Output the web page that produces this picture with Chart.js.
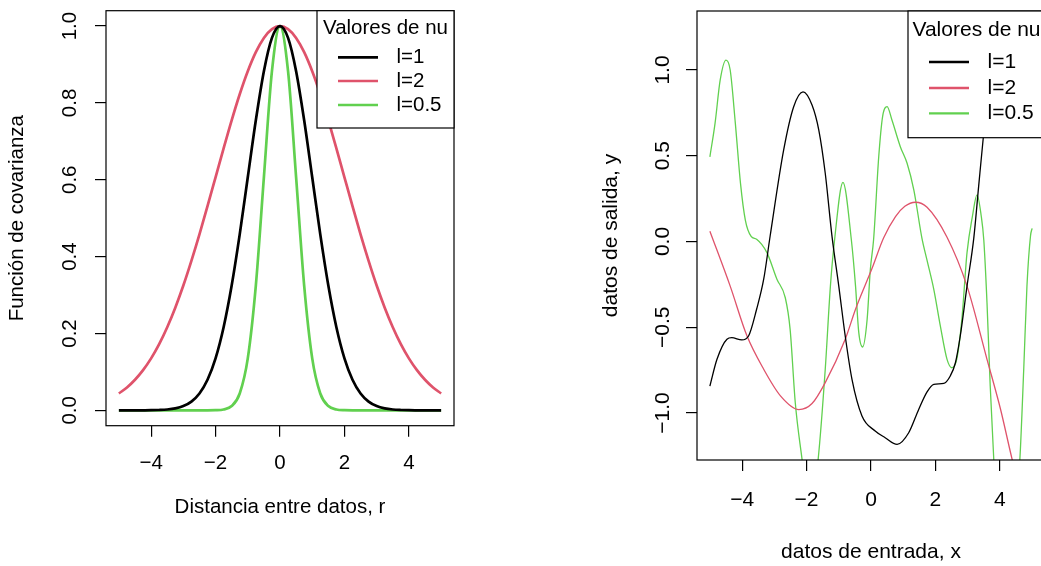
<!DOCTYPE html>
<html>
<head>
<meta charset="utf-8">
<script src="https://cdn.jsdelivr.net/npm/chart.js@4.4.1/dist/chart.umd.min.js"></script>
<style>
html, body { margin: 0; padding: 0; background: #fff; overflow: hidden; width: 1041px; height: 566px; }
#izq { position: absolute; left: 0; top: 0; }
#der { position: absolute; left: 560px; top: 0; }
</style>
</head>
<body>
<canvas id="izq" width="520" height="566"></canvas>
<canvas id="der" width="490" height="566"></canvas>
<script>
// ---- datos panel izquierdo: funcion de covarianza ----
var distancias = [-5, -4.75, -4.5, -4.25, -4, -3.75, -3.5, -3.25, -3, -2.75, -2.5, -2.25, -2, -1.75, -1.5, -1.25, -1, -0.75, -0.5, -0.25,
    0, 0.25, 0.5, 0.75, 1, 1.25, 1.5, 1.75, 2, 2.25, 2.5, 2.75, 3, 3.25, 3.5, 3.75, 4, 4.25, 4.5, 4.75, 5];
var covL1 = [0, 0, 0, 0.0001, 0.0003, 0.0009, 0.0022, 0.0051, 0.0111, 0.0228, 0.0439, 0.0796, 0.1353, 0.2163, 0.3247, 0.4578, 0.6065, 0.7548, 0.8825, 0.9692,
    1, 0.9692, 0.8825, 0.7548, 0.6065, 0.4578, 0.3247, 0.2163, 0.1353, 0.0796, 0.0439, 0.0228, 0.0111, 0.0051, 0.0022, 0.0009, 0.0003, 0.0001, 0, 0, 0];
var covL2 = [0.0439, 0.0596, 0.0796, 0.1046, 0.1353, 0.1724, 0.2163, 0.2671, 0.3247, 0.3889, 0.4578, 0.5314, 0.6065, 0.6818, 0.7548, 0.8226, 0.8825, 0.9321, 0.9692, 0.9922,
    1, 0.9922, 0.9692, 0.9321, 0.8825, 0.8226, 0.7548, 0.6818, 0.6065, 0.5314, 0.4578, 0.3889, 0.3247, 0.2671, 0.2163, 0.1724, 0.1353, 0.1046, 0.0796, 0.0596, 0.0439];
var covL05 = [0, 0, 0, 0, 0, 0, 0, 0, 0, 0, 0, 0, 0.0003, 0.0022, 0.0111, 0.0439, 0.1353, 0.3247, 0.6065, 0.8825,
    1, 0.8825, 0.6065, 0.3247, 0.1353, 0.0439, 0.0111, 0.0022, 0.0003, 0, 0, 0, 0, 0, 0, 0, 0, 0, 0, 0, 0];

// ---- datos panel derecho: muestras del proceso ----
var xNegro = [-5, -4.78, -4.47, -4.32, -4.01, -3.8, -3.55, -3.33, -3.13, -2.71, -2.4, -2.11, -1.83, -1.62, -1.42, -1.21, -1, -0.8, -0.59, -0.28,
    0.13, 0.44, 0.81, 1.17, 1.48, 1.74, 1.95, 2.26, 2.46, 2.62, 2.77, 2.98, 3.19, 3.34, 3.48, 3.8, 4.2, 4.6, 5];
var yNegro = [-0.843, -0.687, -0.57, -0.561, -0.574, -0.551, -0.395, -0.22, 0.032, 0.534, 0.786, 0.873, 0.796, 0.65, 0.398, 0.03, -0.26, -0.551, -0.804, -1.017,
    -1.105, -1.144, -1.183, -1.115, -0.979, -0.877, -0.833, -0.827, -0.784, -0.707, -0.551, -0.26, 0.02, 0.32, 0.596, 1.15, 1.7, 2.0, 2.1];
var xRojo = [-5, -4.37, -3.85, -3.33, -2.81, -2.24, -1.83, -1.42, -0.8, -0.48, 0.03, 0.39, 0.76, 1.05, 1.38, 1.74, 2.36, 2.98, 3.6, 4.02, 4.38, 4.7, 5];
var yRojo = [0.06, -0.26, -0.55, -0.745, -0.9, -0.98, -0.945, -0.823, -0.57, -0.395, -0.158, 0.02, 0.145, 0.205, 0.229, 0.2, 0.025, -0.26, -0.687, -0.978, -1.27, -1.5, -1.72];
var xVerde = [-5, -4.84, -4.68, -4.5, -4.37, -4.21, -4.05, -3.9, -3.72, -3.55, -3.23, -2.92, -2.66, -2.51, -2.35, -2.14, -1.9, -1.64, -1.42, -1.26,
    -1.13, -0.87, -0.61, -0.48, -0.38, -0.26, -0.12, -0.02, 0.08, 0.24, 0.36, 0.5, 0.65, 0.91, 1.12, 1.33, 1.58, 1.74, 1.95, 2.15,
    2.36, 2.51, 2.66, 2.82, 2.98, 3.15, 3.29, 3.42, 3.5, 3.6, 3.7, 3.81, 4.2, 4.62, 4.74, 4.84, 4.95, 5];
var yVerde = [0.494, 0.689, 0.942, 1.058, 1.0, 0.689, 0.339, 0.125, 0.03, 0.013, -0.065, -0.22, -0.328, -0.512, -0.94, -1.27, -1.62, -1.27, -0.745, -0.26,
    0.01, 0.345, 0.01, -0.26, -0.53, -0.615, -0.454, -0.162, 0.01, 0.494, 0.728, 0.786, 0.708, 0.553, 0.456, 0.3, 0.02, -0.11, -0.28, -0.49,
    -0.687, -0.736, -0.687, -0.454, -0.065, 0.15, 0.272, 0.15, 0.01, -0.357, -0.843, -1.27, -2.2, -1.27, -0.745, -0.26, 0.032, 0.077];

var ticksXIzq = [-4, -2, 0, 2, 4];
var ticksYIzq = [0, 0.2, 0.4, 0.6, 0.8, 1];
var ticksXDer = [-4, -2, 0, 2, 4];
var ticksYDer = [-1, -0.5, 0, 0.5, 1];
var etiquetas = ['l=1', 'l=2', 'l=0.5'];
var colores = ['#000000', '#DF536B', '#61D04F'];

var familia = '"Liberation Sans", Arial, Helvetica, sans-serif';
Chart.defaults.font.family = familia;
Chart.defaults.color = '#000';

function pares(xs, ys) {
    return xs.map(function (x, i) { return {x: x, y: ys[i]}; });
}
function conMenos(v, dec) {
    var s = Math.abs(v).toFixed(dec);
    return v < 0 ? '\u2212' + s : s;
}

// marco del grafico y leyenda dentro del area
var marcoYLeyenda = {
    id: 'marcoYLeyenda',
    afterDatasetsDraw: function (chart, args, opts) {
        var ctx = chart.ctx, a = chart.chartArea;
        ctx.save();
        ctx.strokeStyle = '#000';
        ctx.lineWidth = 1.2;
        ctx.strokeRect(a.left, a.top, a.right - a.left, a.bottom - a.top);
        var bx = a.right - opts.ancho, by = a.top;
        ctx.fillStyle = '#fff';
        ctx.fillRect(bx, by, opts.ancho, opts.alto);
        ctx.strokeRect(bx, by, opts.ancho, opts.alto);
        ctx.font = opts.fuente + 'px ' + familia;
        ctx.fillStyle = '#000';
        ctx.textBaseline = 'middle';
        ctx.textAlign = 'center';
        ctx.fillText('Valores de nu', bx + opts.ancho / 2, by + opts.yTitulo);
        ctx.textAlign = 'left';
        chart.data.datasets.forEach(function (ds, i) {
            var y = by + opts.yItems[i];
            ctx.strokeStyle = ds.borderColor;
            ctx.lineWidth = opts.grosor;
            ctx.beginPath();
            ctx.moveTo(bx + 21, y);
            ctx.lineTo(bx + 61, y);
            ctx.stroke();
            ctx.fillText(ds.label, bx + 79.5, y);
        });
        ctx.restore();
    }
};

// Panel izquierdo
var ctxIzq = document.getElementById('izq').getContext('2d');
var graficoIzq = new Chart(ctxIzq, {
    type: 'line',
    data: {
        datasets: [
            {label: etiquetas[0], data: pares(distancias, covL1), borderColor: colores[0], borderWidth: 2.7, pointRadius: 0, cubicInterpolationMode: 'monotone'},
            {label: etiquetas[1], data: pares(distancias, covL2), borderColor: colores[1], borderWidth: 2.7, pointRadius: 0, cubicInterpolationMode: 'monotone'},
            {label: etiquetas[2], data: pares(distancias, covL05), borderColor: colores[2], borderWidth: 2.7, pointRadius: 0, cubicInterpolationMode: 'monotone'}
        ]
    },
    plugins: [marcoYLeyenda],
    options: {
        responsive: false,
        animation: false,
        layout: {padding: {top: 10.7, right: 66, left: 0, bottom: 0}},
        plugins: {
            legend: {display: false},
            tooltip: {enabled: false},
            marcoYLeyenda: {ancho: 137, alto: 117.3, yTitulo: 17.3, yItems: [46.6, 70.3, 94.3], fuente: 20.5, grosor: 2.7}
        },
        scales: {
            x: {
                type: 'linear', min: -5.4, max: 5.4,
                afterBuildTicks: function (s) { s.ticks = ticksXIzq.map(function (v) { return {value: v}; }); },
                afterFit: function (s) { s.height = 140.3; s.paddingLeft = 0; s.paddingRight = 0; },
                grid: {drawOnChartArea: false, tickLength: 11, color: '#000', lineWidth: 1.2},
                border: {display: false},
                ticks: {font: {size: 20.5}, padding: 14, maxRotation: 0, callback: function (v) { return conMenos(v, 0); }},
                title: {display: true, text: 'Distancia entre datos, r', font: {size: 20.5}, padding: {top: 0, bottom: 46}}
            },
            y: {
                min: -0.04, max: 1.04,
                afterBuildTicks: function (s) { s.ticks = ticksYIzq.map(function (v) { return {value: v}; }); },
                afterFit: function (s) { s.width = 106; s.paddingTop = 0; s.paddingBottom = 0; },
                grid: {drawOnChartArea: false, tickLength: 11, color: '#000', lineWidth: 1.2},
                border: {display: false},
                ticks: {font: {size: 20.5}, padding: 10.75, minRotation: 90, maxRotation: 90, crossAlign: 'center',
                    callback: function (v) { return conMenos(v, 1); }},
                title: {display: true, text: 'Función de covarianza', font: {size: 20.5}, padding: {top: 5, bottom: 0}}
            }
        }
    }
});

// Panel derecho
var ctxDer = document.getElementById('der').getContext('2d');
var graficoDer = new Chart(ctxDer, {
    type: 'line',
    data: {
        datasets: [
            {label: etiquetas[0], data: pares(xNegro, yNegro), borderColor: colores[0], borderWidth: 1.3, pointRadius: 0, cubicInterpolationMode: 'monotone'},
            {label: etiquetas[1], data: pares(xRojo, yRojo), borderColor: colores[1], borderWidth: 1.3, pointRadius: 0, cubicInterpolationMode: 'monotone'},
            {label: etiquetas[2], data: pares(xVerde, yVerde), borderColor: colores[2], borderWidth: 1.3, pointRadius: 0, cubicInterpolationMode: 'monotone'}
        ]
    },
    plugins: [marcoYLeyenda],
    options: {
        responsive: false,
        animation: false,
        layout: {padding: {top: 11, right: 5, left: 0, bottom: 0}},
        plugins: {
            legend: {display: false},
            tooltip: {enabled: false},
            marcoYLeyenda: {ancho: 137, alto: 126.7, yTitulo: 19, yItems: [51, 77, 102.3], fuente: 21, grosor: 2.3}
        },
        scales: {
            x: {
                type: 'linear', min: -5.4, max: 5.4,
                afterBuildTicks: function (s) { s.ticks = ticksXDer.map(function (v) { return {value: v}; }); },
                afterFit: function (s) { s.height = 106; s.paddingLeft = 0; s.paddingRight = 0; },
                grid: {drawOnChartArea: false, tickLength: 11, color: '#000', lineWidth: 1.2},
                border: {display: false},
                ticks: {font: {size: 21}, padding: 17, maxRotation: 0, callback: function (v) { return conMenos(v, 0); }},
                title: {display: true, text: 'datos de entrada, x', font: {size: 21}, padding: {top: 0, bottom: 1.4}}
            },
            y: {
                min: -1.274, max: 1.344,
                afterBuildTicks: function (s) { s.ticks = ticksYDer.map(function (v) { return {value: v}; }); },
                afterFit: function (s) { s.width = 137; s.paddingTop = 0; s.paddingBottom = 0; },
                grid: {drawOnChartArea: false, tickLength: 11, color: '#000', lineWidth: 1.2},
                border: {display: false},
                ticks: {font: {size: 21}, padding: 2.3, minRotation: 90, maxRotation: 90, crossAlign: 'center',
                    callback: function (v) { return conMenos(v, 1); }},
                title: {display: true, text: 'datos de salida, y', font: {size: 21}, padding: {top: 38.4, bottom: 0}}
            }
        }
    }
});
</script>
</body>
</html>
